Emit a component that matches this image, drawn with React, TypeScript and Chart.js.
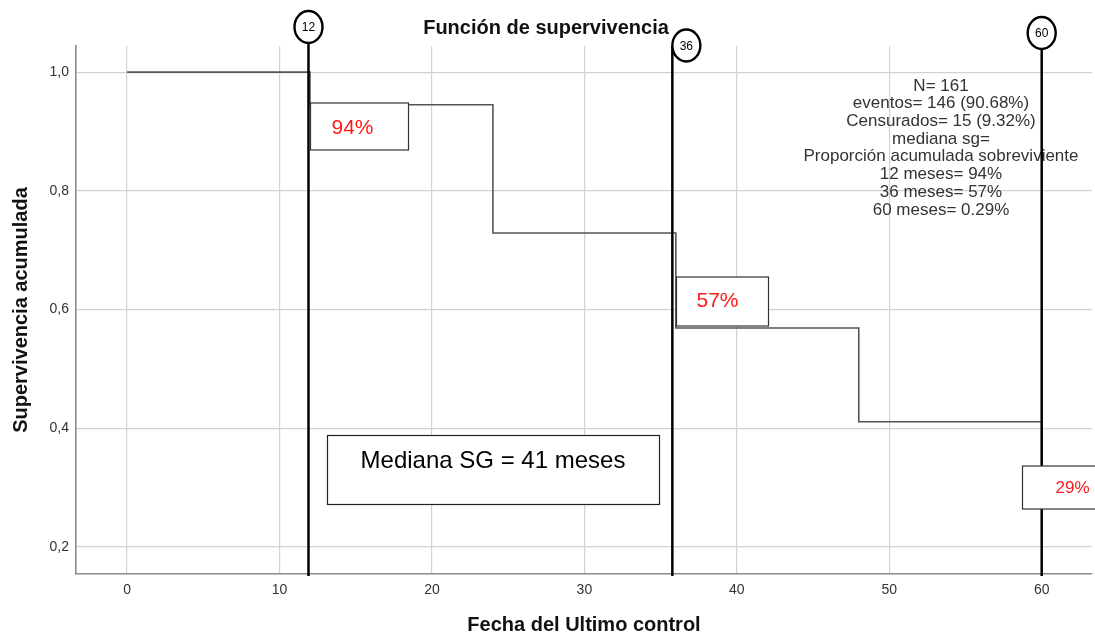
import React, { useEffect, useRef } from 'react';
import { Chart, registerables } from 'chart.js';

Chart.register(...registerables);

// ---- data ----
const months = [0, 12, 24, 36, 48, 60];
const survival = [1.0, 0.945, 0.729, 0.569, 0.411, 0.29];
const xTicks = [0, 10, 20, 30, 40, 50, 60];
const yTicks = [0.2, 0.4, 0.6, 0.8, 1.0];
const milestoneMonths = [12, 36, 60];
const milestoneLabels = ['12', '36', '60'];
const milestonePct = ['94%', '57%', '29%'];
const infoLines = [
  'N= 161',
  'eventos= 146 (90.68%)',
  'Censurados= 15 (9.32%)',
  'mediana sg=',
  'Proporción acumulada sobreviviente',
  '12 meses= 94%',
  '36 meses= 57%',
  '60 meses= 0.29%',
];
const medianText = 'Mediana SG = 41 meses';
const titleText = 'Función de supervivencia';
const xTitle = 'Fecha del Ultimo control';
const yTitle = 'Supervivencia acumulada';

const FONT = "'Liberation Sans', Arial, Helvetica, sans-serif";

const annotPlugin = {
  id: 'kmAnnot',
  afterDraw(chart: any) {
    const { ctx, scales } = chart;
    const xs = scales.x;
    ctx.save();

    // info text block
    ctx.font = `17px ${FONT}`;
    ctx.fillStyle = '#333';
    ctx.textAlign = 'center';
    ctx.textBaseline = 'middle';
    infoLines.forEach((t, i) => ctx.fillText(t, 941, 86 + i * 17.7));

    // milestone lines + circles
    const mk = [
      { dx: -1.5, cx: 0, cy: 27, top: 43 },
      { dx: -3.5, cx: 14, cy: 45.5, top: 46 },
      { dx: 0, cx: 0, cy: 33, top: 49 },
    ];
    milestoneMonths.forEach((m, i) => {
      const px = xs.getPixelForValue(m) + mk[i].dx;
      ctx.strokeStyle = '#000';
      ctx.lineWidth = 2.5;
      ctx.beginPath();
      ctx.moveTo(px, mk[i].top);
      ctx.lineTo(px, 576);
      ctx.stroke();
      const ccx = px + mk[i].cx;
      ctx.beginPath();
      ctx.ellipse(ccx, mk[i].cy, 14, 16, 0, 0, Math.PI * 2);
      ctx.fillStyle = '#fff';
      ctx.fill();
      ctx.lineWidth = 2.4;
      ctx.stroke();
      ctx.fillStyle = '#000';
      ctx.font = `12px ${FONT}`;
      ctx.textAlign = 'center';
      ctx.textBaseline = 'middle';
      ctx.fillText(milestoneLabels[i], ccx, mk[i].cy + 1);
    });

    // percentage boxes
    const bx = [
      { dx: 0, top: 103, w: 98, h: 47, tx: 42, ty: 128, size: 21 },
      { dx: 0, top: 277, w: 92, h: 49, tx: 41, ty: 301, size: 21 },
      { dx: -20, top: 466, w: 90, h: 43, tx: 50, ty: 488, size: 17 },
    ];
    milestoneMonths.forEach((m, i) => {
      const px = Math.round(xs.getPixelForValue(m) + bx[i].dx) + 0.5;
      ctx.fillStyle = '#fff';
      ctx.fillRect(px, bx[i].top, bx[i].w, bx[i].h);
      ctx.strokeStyle = '#333';
      ctx.lineWidth = 1.2;
      ctx.strokeRect(px, bx[i].top, bx[i].w, bx[i].h);
      ctx.fillStyle = '#ff1a1a';
      ctx.font = `${bx[i].size}px ${FONT}`;
      ctx.textAlign = 'center';
      ctx.textBaseline = 'middle';
      ctx.fillText(milestonePct[i], px + bx[i].tx, bx[i].ty);
    });

    // median box
    ctx.fillStyle = '#fff';
    ctx.fillRect(327.5, 435.5, 332, 69);
    ctx.strokeStyle = '#222';
    ctx.lineWidth = 1.2;
    ctx.strokeRect(327.5, 435.5, 332, 69);
    ctx.fillStyle = '#000';
    ctx.font = `24px ${FONT}`;
    ctx.textAlign = 'center';
    ctx.textBaseline = 'middle';
    ctx.fillText(medianText, 493, 461);

    ctx.restore();
  },
};

export default function App() {
  const ref = useRef<HTMLCanvasElement>(null);

  useEffect(() => {
    if (!ref.current) return;
    const chart = new Chart(ref.current, {
      type: 'line',
      data: {
        datasets: [
          {
            data: months.map((m, i) => ({ x: m, y: survival[i] })),
            stepped: 'before',
            borderColor: '#555',
            borderWidth: 1.6,
            pointRadius: 0,
            fill: false,
          } as any,
        ],
      },
      options: {
        animation: false,
        responsive: false,
        layout: { padding: { left: 0, right: 3, top: 0, bottom: 0 } },
        plugins: {
          legend: { display: false },
          tooltip: { enabled: false },
          title: {
            display: true,
            text: titleText,
            color: '#111',
            font: { family: FONT, size: 20, weight: 'bold' },
            padding: { top: 16, bottom: 6 },
          },
        },
        scales: {
          x: {
            type: 'linear',
            min: -3.35,
            max: 63.3,
            afterBuildTicks: (s: any) => {
              s.ticks = xTicks.map((v) => ({ value: v }));
            },
            afterFit: (s: any) => {
              s.height = 63;
            },
            grid: { color: '#d2d2d2', lineWidth: 1.2, drawTicks: false },
            border: { color: '#8c8c8c', width: 1.6 },
            ticks: {
              font: { family: FONT, size: 14 },
              color: '#333',
              padding: 8,
              maxRotation: 0,
              autoSkip: false,
              callback: (v: any) => String(v),
            },
            title: {
              display: true,
              text: xTitle,
              color: '#111',
              font: { family: FONT, size: 20, weight: 'bold' },
              padding: { top: 0, bottom: 0 },
            },
          },
          y: {
            type: 'linear',
            min: 0.1545,
            max: 1.044,
            afterBuildTicks: (s: any) => {
              s.ticks = yTicks.map((v) => ({ value: v }));
            },
            afterFit: (s: any) => {
              s.width = 76;
            },
            grid: { color: '#d2d2d2', lineWidth: 1.2, drawTicks: false },
            border: { color: '#8c8c8c', width: 1.6 },
            ticks: {
              font: { family: FONT, size: 14 },
              color: '#333',
              padding: 7,
              callback: (v: any) => Number(v).toFixed(1).replace('.', ','),
            },
            title: {
              display: true,
              text: yTitle,
              color: '#111',
              font: { family: FONT, size: 20, weight: 'bold' },
              padding: { top: 9, bottom: 0 },
            },
          },
        },
      } as any,
      plugins: [annotPlugin],
    });
    return () => chart.destroy();
  }, []);

  return (
    <div style={{ position: 'absolute', left: 0, top: 0, width: 1095, height: 637, background: '#fff' }}>
      <canvas ref={ref} width={1095} height={637} style={{ display: 'block' }} />
    </div>
  );
}
